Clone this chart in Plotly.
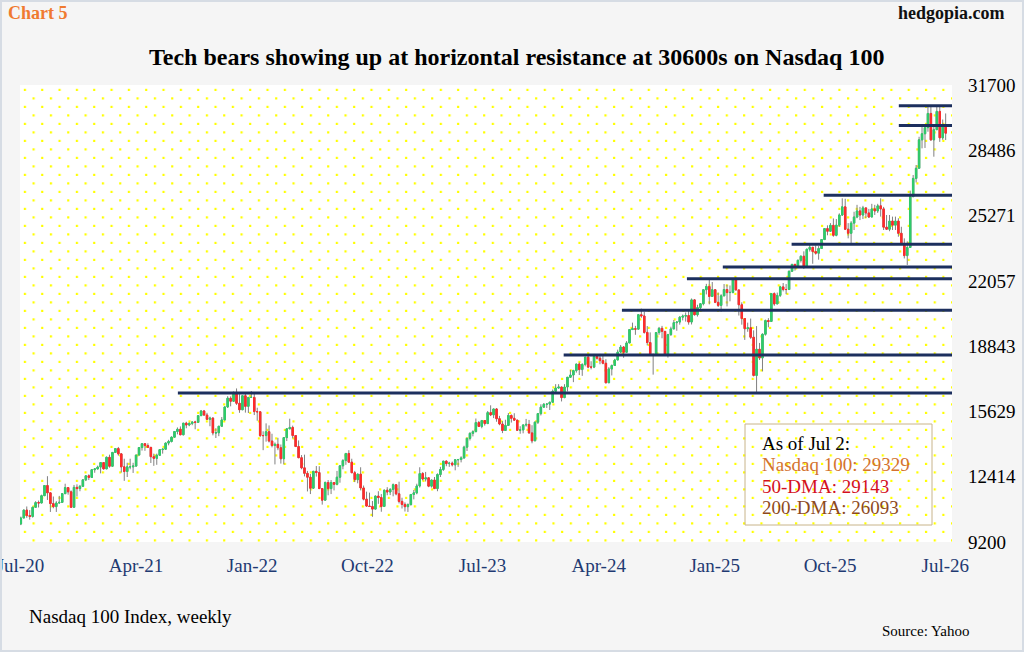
import base64
import pandas as pd
import plotly.graph_objects as go

# weekly Nasdaq 100 bars, first week ends Jul 2 2020, last Jul 2 2026
first_open = 10090
close = [
    # 2020
    10380, 10770, 10500, 10460, 10910, 11140, 11120, 11480, 11980, 11620, 11090, 10940, 11120, 11150,
    11580, 11880, 11670, 10910, 11890, 11830, 11940, 12260, 12460, 12380, 12760, 12800, 12890,
    # 2021
    13110, 12800, 13370, 12930, 13610, 13800, 13540, 12900, 12670, 12900, 12900, 12940, 13480, 13850,
    14040, 13950, 13860, 13400, 13320, 13470, 13750, 13770, 14070, 14150, 14360, 14640, 14750, 14480,
    15050, 14960, 15040, 15110, 15090, 15420, 15650, 15450, 15240, 15300, 14570, 14580, 14900, 15210,
    15850, 16280, 16130, 16570, 16030, 15710, 16400, 15880, 16320, 16320,
    # 2022
    15620, 15610, 14440, 14440, 14630, 14170, 13950, 14010, 13840, 13300, 14340, 14770, 14840, 14440,
    13900, 13350, 12850, 12580, 12390, 11850, 12680, 12620, 11830, 11260, 12130, 11830, 12130, 12040,
    12390, 12950, 13210, 13560, 13130, 12610, 12270, 12540, 11860, 11310, 10970, 10950, 10820, 11460,
    11390, 10950, 11750, 11660, 11790, 12020, 11570, 11200, 11050, 10940,
    # 2023
    11040, 11540, 11620, 11960, 12570, 12300, 12360, 11950, 12250, 11830, 12520, 12770, 13180, 13060,
    13080, 13000, 13250, 13260, 13340, 13870, 14300, 14550, 14630, 15080, 14890, 15180, 15030, 15570,
    15460, 15750, 15270, 15010, 14690, 14940, 15430, 15290, 15200, 14700, 14720, 14960, 14990, 14570,
    14180, 15100, 15520, 15840, 15980, 15990, 16080, 16620, 16780, 16830,
    # 2024
    16310, 16830, 17310, 17420, 17640, 17960, 17690, 17940, 18300, 17810, 17810, 18340, 18250, 18130,
    18000, 17040, 17720, 17890, 18160, 18550, 18800, 18540, 19000, 19660, 19700, 19680, 20390, 20330,
    19520, 19020, 18440, 18430, 19510, 19720, 19570, 18420, 19410, 19690, 20000, 20030, 20270, 20320,
    20350, 20030, 21120, 20390, 20740, 20930, 21620, 21780, 21290, 21620, 21000,
    # 2025
    20850, 21320, 21630, 21480, 21490, 22110, 21610, 20880, 20200, 19700, 19750, 19280, 17400, 18690,
    18260, 19430, 20100, 20060, 21430, 20920, 21340, 21760, 21630, 21630, 22530, 22870, 22780, 23070,
    23270, 22760, 23610, 23710, 23500, 23420, 23650, 24090, 24630, 24500, 24790,
    24300, 24800, 25300, 25700, 24600, 24400, 24900, 25200, 25500, 25300, 25650, 25400, 25200,
    # 2026
    25600, 25500, 25750, 25600, 24700, 24600, 25000, 24800, 25000, 24400, 23900, 23300, 23700, 26200,
    27100, 27600, 29000, 29300, 29600, 30300, 29000, 29500, 30400, 29100, 29700, 29329,
]
high = [
    10450, 10800, 10950, 10770, 10940, 11210, 11240, 11530, 12000, 12440, 11570, 11440, 11210, 11470,
    11610, 12070, 11900, 11740, 12010, 12040, 12010, 12270, 12470, 12530, 12790, 12830, 12960,
    13130, 13110, 13410, 13500, 13620, 13810, 13880, 13560, 13300, 13100, 13300, 13100, 13490, 13850,
    14060, 14000, 14060, 13870, 13550, 13550, 13760, 13800, 14100, 14230, 14400, 14650, 14840, 14890,
    15060, 15120, 15090, 15130, 15170, 15440, 15700, 15700, 15560, 15370, 15340, 14800, 14910, 15350,
    15860, 16380, 16370, 16600, 16760, 16480, 16420, 16580, 16330, 16630,
    16570, 15810, 15550, 14650, 15040, 14940, 14530, 14100, 14330, 14000, 14350, 14800, 15270, 14930,
    14380, 14200, 13480, 13500, 12700, 12550, 12700, 12940, 12930, 11690, 12180, 12250, 12250, 12150,
    12700, 12960, 13280, 13570, 13720, 13300, 12700, 12570, 12880, 11980, 11680, 11630, 11220, 11490,
    11700, 11560, 11780, 11900, 11850, 12080, 11980, 12170, 11380, 11150,
    11100, 11560, 11760, 12070, 12880, 12640, 12650, 12330, 12270, 12400, 12580, 12900, 13190, 13220,
    13150, 13160, 13280, 13290, 13420, 13940, 14340, 14600, 14700, 15280, 15160, 15210, 15200, 15650,
    15930, 15760, 15790, 15410, 15150, 15220, 15550, 15480, 15540, 15210, 14900, 15000, 15260, 15210,
    14950, 15130, 15550, 15980, 16040, 16040, 16110, 16710, 16970, 16970,
    16840, 16970, 17320, 17670, 17680, 17970, 18040, 18000, 18310, 18420, 18100, 18460, 18360, 18460,
    18420, 18200, 17810, 17940, 18220, 18670, 18900, 18850, 19090, 19680, 20000, 19840, 20400, 20690,
    20540, 19830, 19520, 18460, 19530, 19790, 19840, 19500, 19450, 19800, 20130, 20050, 20320, 20400,
    20500, 20580, 21190, 21160, 20880, 20960, 21640, 21910, 22130, 22000, 21650,
    21480, 21400, 21900, 21870, 21830, 22130, 22220, 21620, 21000, 20100, 20000, 20200, 19620, 19830,
    19000, 19470, 20150, 20220, 21450, 21490, 21480, 21810, 21950, 21900, 22560, 22880, 22850, 23100,
    23310, 23510, 23650, 23850, 23700, 23800, 23770, 24100, 24650, 24790, 24900,
    25130, 25100, 25380, 26120, 26100, 24900, 25000, 25460, 25800, 25700, 25750, 25650, 25600,
    25850, 25800, 25850, 26120, 25700, 25300, 25300, 25220, 25220, 25140, 24720, 24150, 24000, 26500,
    27270, 27760, 29150, 29700, 29750, 30680, 30650, 29730, 30680, 30650, 30000, 30300,
]
low = [
    10030, 10380, 10390, 10300, 10400, 10900, 10900, 11110, 11480, 11270, 10680, 10860, 10680, 11090,
    11150, 11560, 11530, 10890, 10930, 11440, 11700, 11940, 12200, 12250, 12390, 12610, 12770,
    12580, 12770, 12800, 12860, 12960, 13600, 13450, 12620, 12210, 12400, 12780, 12600, 12900, 13500,
    13700, 13690, 13850, 13090, 12950, 13000, 13450, 13550, 13780, 13960, 14100, 14350, 14500, 14460,
    14450, 14800, 14900, 14950, 14750, 15100, 15430, 15420, 15220, 14900, 14450, 14320, 14410, 14900,
    15200, 15800, 15880, 16110, 15950, 15560, 15700, 15570, 15550, 16300,
    15450, 15170, 14370, 13720, 14140, 14100, 13860, 13020, 13720, 13060, 13020, 14170, 14770, 14300,
    13890, 13330, 12780, 12430, 11690, 11560, 11820, 12420, 11810, 11040, 11290, 11500, 11560, 11740,
    11990, 12120, 12780, 13000, 13120, 12600, 12150, 12090, 11740, 11250, 10940, 10930, 10440, 10860,
    11080, 10690, 10920, 11500, 11510, 11450, 11500, 11100, 10850, 10700,
    10680, 11000, 11300, 11550, 11880, 12230, 12180, 11900, 11880, 11820, 11700, 12400, 12700, 12930,
    12900, 12920, 12730, 12900, 13120, 13300, 13680, 14200, 14400, 14620, 14860, 14800, 14930, 15020,
    15400, 15300, 15120, 14950, 14560, 14690, 14940, 15080, 15180, 14670, 14530, 14550, 14880, 14540,
    14060, 14200, 15010, 15430, 15830, 15800, 15700, 16080, 16550, 16760,
    16120, 16280, 16610, 17280, 17070, 17540, 17420, 17380, 17850, 17750, 17700, 17760, 18180, 17950,
    17950, 17010, 17080, 17400, 17900, 18180, 18500, 18270, 18540, 19000, 19640, 19400, 19700, 20240,
    19460, 18880, 18370, 17440, 18400, 19400, 19230, 18400, 18280, 19350, 19690, 19600, 19900, 20110,
    20050, 19900, 19910, 20350, 20300, 20580, 20850, 21390, 20900, 21330, 20960,
    20770, 20540, 21300, 20800, 21050, 21440, 21590, 20350, 19900, 19150, 19550, 19200, 17350, 16540,
    18160, 17600, 19360, 19770, 20630, 20830, 21000, 21260, 21540, 21400, 21620, 22500, 22560, 22700,
    22960, 22650, 22880, 23500, 22900, 23350, 23100, 23650, 24080, 24300, 24500,
    24230, 24250, 24720, 25250, 24560, 24150, 23900, 24560, 25140, 25050, 25100, 25150, 25150,
    25300, 25300, 25400, 25220, 24560, 24560, 24500, 24560, 24560, 24230, 23820, 23160, 22840, 23700,
    26200, 26900, 27600, 28580, 28600, 29400, 28950, 28170, 29480, 28900, 29000, 28990,
]

# horizontal resistance levels and where each one starts
res_level = [16540, 18410, 20610, 22160, 22740, 23860, 26270, 29700, 30680]
res_start = ["2021-07-09", "2024-01-09", "2024-05-26", "2024-10-27", "2025-01-20",
             "2025-07-02", "2025-09-16", "2026-03-13", "2026-03-13"]
res_end = "2026-07-17"

y_ticks = [9200, 12414, 15629, 18843, 22057, 25271, 28486, 31700]
x_ticks = ["2020-07-01", "2021-04-01", "2022-01-01", "2022-10-01", "2023-07-01",
           "2024-04-01", "2025-01-01", "2025-10-01", "2026-07-01"]
x_labels = ["Jul-20", "Apr-21", "Jan-22", "Oct-22", "Jul-23", "Apr-24", "Jan-25", "Oct-25", "Jul-26"]

dates = pd.date_range("2020-07-02", periods=len(close), freq="7D")
opens = [first_open] + close[:-1]
body_hi = [max(o, c) for o, c in zip(opens, close)]
body_lo = [min(o, c) for o, c in zip(opens, close)]

W, H = 1024, 652
L, R, T, B = 20, 952, 85, 542
FONT = "Liberation Serif"
WICK = "#808080"
UP = "#2ECC6A"
DOWN = "#FF2B2B"
NAVY = "#1C2F5E"


def px(x):
    return (x - L) / (R - L)


def py(y):
    return (B - y) / (B - T)


# dotted plot background
pw, ph = R - L, B - T
svg = (f'<svg xmlns="http://www.w3.org/2000/svg" width="{pw}" height="{ph}">'
       '<defs><pattern id="d" x="0" y="0" width="17.33" height="17" patternUnits="userSpaceOnUse">'
       '<rect x="3.8" y="3.8" width="2.2" height="2.2" fill="#ffff00"/>'
       '<rect x="12.5" y="12.3" width="2.2" height="2.2" fill="#ffff00"/>'
       '</pattern></defs>'
       f'<rect width="{pw}" height="{ph}" fill="#ffffff"/>'
       f'<rect width="{pw}" height="{ph}" fill="url(#d)"/></svg>')
bg_src = "data:image/svg+xml;base64," + base64.b64encode(svg.encode()).decode()

fig = go.Figure()

# wicks (gray) then bodies (green / red)
fig.add_trace(go.Candlestick(
    x=dates, open=opens, high=high, low=low, close=close,
    increasing=dict(line=dict(color=WICK, width=1), fillcolor=WICK),
    decreasing=dict(line=dict(color=WICK, width=1), fillcolor=WICK),
    whiskerwidth=0, hoverinfo="skip", showlegend=False))
fig.add_trace(go.Candlestick(
    x=dates, open=opens, high=body_hi, low=body_lo, close=close,
    increasing=dict(line=dict(color=UP, width=1), fillcolor=UP),
    decreasing=dict(line=dict(color=DOWN, width=1), fillcolor=DOWN),
    whiskerwidth=0, hoverinfo="skip", showlegend=False))

shapes = []
for lvl, start in zip(res_level, res_start):
    shapes.append(dict(type="line", xref="x", yref="y", x0=start, x1=res_end, y0=lvl, y1=lvl,
                       line=dict(color=NAVY, width=3), layer="above"))
# info box
shapes.append(dict(type="rect", xref="paper", yref="paper", x0=px(745), x1=px(932),
                   y0=py(525), y1=py(424), line=dict(color="#C8B48A", width=1)))
# thin frame round the picture
shapes.append(dict(type="rect", xref="paper", yref="paper", x0=px(0), x1=px(W),
                   y0=py(H), y1=py(0), line=dict(color="#D6DCE4", width=4)))

annotations = [
    dict(text="<b>Chart 5</b>", x=px(6), y=py(13), xanchor="left",
         font=dict(size=18, color="#F07A30")),
    dict(text="<b>hedgopia.com</b>", x=px(1007), y=py(13), xanchor="right",
         font=dict(size=18, color="#111111")),
    dict(text="<b>Tech bears showing up at horizontal resistance at 30600s on Nasdaq 100</b>",
         x=px(516), y=py(57), xanchor="center", font=dict(size=24, color="#000000")),
    dict(text="Nasdaq 100 Index, weekly", x=px(27), y=py(616), xanchor="left",
         font=dict(size=19, color="#000000")),
    dict(text="Source: Yahoo", x=px(880), y=py(631), xanchor="left",
         font=dict(size=15, color="#000000")),
    dict(text="As of Jul 2:", x=px(760), y=py(443), xanchor="left",
         font=dict(size=19, color="#000000")),
    dict(text="Nasdaq 100: 29329", x=px(760), y=py(464), xanchor="left",
         font=dict(size=19, color="#D4732E")),
    dict(text="50-DMA: 29143", x=px(760), y=py(486), xanchor="left",
         font=dict(size=19, color="#D4101E")),
    dict(text="200-DMA: 26093", x=px(760), y=py(507), xanchor="left",
         font=dict(size=19, color="#8E4A1C")),
]
for a in annotations:
    a.update(xref="paper", yref="paper", yanchor="middle", showarrow=False)

fig.update_layout(
    width=W, height=H,
    margin=dict(l=L, r=W - R, t=T, b=H - B, autoexpand=False),
    paper_bgcolor="#F5F5F5",
    plot_bgcolor="rgba(0,0,0,0)",
    font=dict(family=FONT, color="#000000"),
    showlegend=False,
    hovermode=False,
    shapes=shapes,
    annotations=annotations,
    images=[dict(source=bg_src, xref="paper", yref="paper", x=0, y=1, sizex=1, sizey=1,
                 sizing="stretch", xanchor="left", yanchor="top", layer="below")],
    xaxis=dict(type="date", range=["2020-06-30", res_end], tickvals=x_ticks, ticktext=x_labels,
               tickfont=dict(size=19, color="#1F3A72"), ticks="", showgrid=False,
               zeroline=False, showline=False, ticklabelstandoff=10,
               ticklabeloverflow="allow", rangeslider=dict(visible=False), fixedrange=True),
    yaxis=dict(side="right", range=[9200, 31700], tickvals=y_ticks,
               ticktext=[str(v) for v in y_ticks], tickfont=dict(size=19, color="#000000"),
               ticks="", showgrid=False, zeroline=False, showline=False,
               ticklabelstandoff=15, fixedrange=True),
)

fig.write_html("out.html", config={"displayModeBar": False},
               post_script="document.body.style.margin='0';")
